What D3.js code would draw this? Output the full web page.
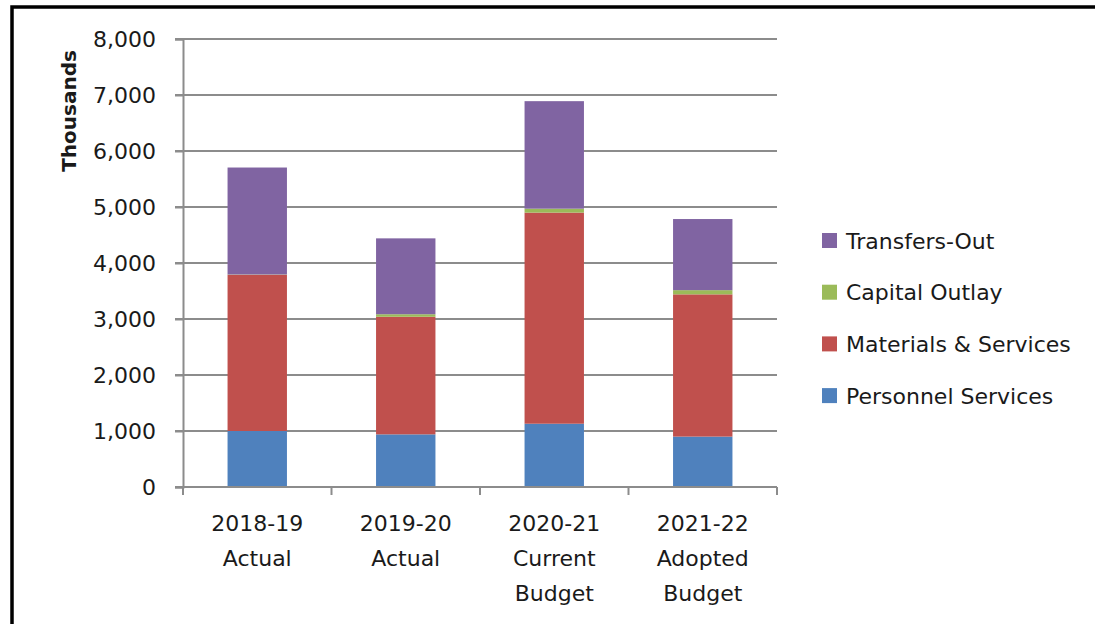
<!DOCTYPE html>
<html>
<head>
<meta charset="utf-8">
<script src="https://cdn.jsdelivr.net/npm/d3@7"></script>
<style>
  body { margin: 0; background: #fff; }
  text { font-family: "DejaVu Sans", sans-serif; fill: #1a1a1a; }
</style>
</head>
<body>
<svg id="chart" width="1095" height="624"></svg>
<script>
// values in thousands
const categories = ["2018-19", "2019-20", "2020-21", "2021-22"];
const catLabels = [["2018-19", "Actual"], ["2019-20", "Actual"], ["2020-21", "Current", "Budget"], ["2021-22", "Adopted", "Budget"]];
const personnel = [1000, 940, 1130, 900];
const materials = [2790, 2100, 3770, 2540];
const capital = [5, 45, 70, 75];
const transfers = [1910, 1355, 1920, 1270];
const seriesNames = ["Personnel Services", "Materials & Services", "Capital Outlay", "Transfers-Out"];
const seriesColors = ["#4f81bd", "#c0504d", "#9bbb59", "#8064a2"];
const yTicks = [0, 1000, 2000, 3000, 4000, 5000, 6000, 7000, 8000];

const svg = d3.select("#chart");

// frame (left + top edges only)
svg.append("path")
  .attr("d", "M12,624 L12,7 L1095,7")
  .attr("fill", "none")
  .attr("stroke", "#000")
  .attr("stroke-width", 3.5);

const margin = { top: 39, left: 183, right: 777, bottom: 487 };

const x = d3.scaleBand()
  .domain(categories)
  .range([margin.left, margin.right])
  .paddingInner(0)
  .paddingOuter(0);

const y = d3.scaleLinear()
  .domain([0, 8000])
  .range([margin.bottom, margin.top]);

const color = d3.scaleOrdinal().domain(seriesNames).range(seriesColors);

// gridlines
svg.append("g")
  .selectAll("line")
  .data(yTicks)
  .join("line")
  .attr("x1", margin.left - 8)
  .attr("x2", margin.right)
  .attr("y1", d => y(d))
  .attr("y2", d => y(d))
  .attr("stroke", "#8c8c8c")
  .attr("stroke-width", 2);

const table = categories.map((c, i) => ({
  cat: c,
  "Personnel Services": personnel[i],
  "Materials & Services": materials[i],
  "Capital Outlay": capital[i],
  "Transfers-Out": transfers[i]
}));

const stack = d3.stack().keys(seriesNames);
const layers = stack(table);

const barW = x.bandwidth() * 0.4;

svg.append("g")
  .selectAll("g")
  .data(layers)
  .join("g")
  .attr("fill", d => color(d.key))
  .selectAll("rect")
  .data(d => d)
  .join("rect")
  .attr("x", d => x(d.data.cat) + (x.bandwidth() - barW) / 2)
  .attr("width", barW)
  .attr("y", d => y(d[1]))
  .attr("height", d => y(d[0]) - y(d[1]));

// y axis
const yAxis = svg.append("g")
  .attr("transform", `translate(${margin.left},0)`)
  .call(d3.axisLeft(y).tickValues(yTicks).tickSize(8).tickPadding(19).tickFormat(d3.format(",")))
  .call(g => g.select(".domain").attr("stroke", "#8c8c8c").attr("stroke-width", 2))
  .call(g => g.selectAll(".tick line").attr("stroke", "#8c8c8c").attr("stroke-width", 2));
yAxis.selectAll(".tick text")
  .style("font-family", "DejaVu Sans")
  .style("font-size", "22px")
  .attr("fill", "#1a1a1a");

// x axis line + tick marks at band edges
const edges = categories.map(c => x(c)).concat([margin.right]);
svg.append("line")
  .attr("x1", margin.left).attr("x2", margin.right)
  .attr("y1", margin.bottom).attr("y2", margin.bottom)
  .attr("stroke", "#8c8c8c").attr("stroke-width", 2);
svg.append("g")
  .selectAll("line")
  .data(edges)
  .join("line")
  .attr("x1", d => d).attr("x2", d => d)
  .attr("y1", margin.bottom).attr("y2", margin.bottom + 8)
  .attr("stroke", "#8c8c8c").attr("stroke-width", 2);

// category labels
svg.append("g")
  .selectAll("text")
  .data(categories)
  .join("text")
  .attr("text-anchor", "middle")
  .attr("font-size", 22)
  .attr("transform", (d, i) => `translate(${x(d) + x.bandwidth() / 2},531)`)
  .each(function(d, i) {
    d3.select(this).selectAll("tspan")
      .data(catLabels[i])
      .join("tspan")
      .attr("x", 0)
      .attr("y", (t, j) => j * 35)
      .text(t => t);
  });

// y axis title
svg.append("text")
  .attr("transform", "translate(76,111) rotate(-90)")
  .attr("text-anchor", "middle")
  .attr("font-size", 20)
  .attr("font-weight", "bold")
  .text("Thousands");

// legend, top to bottom in reverse stack order
const legendNames = seriesNames.slice().reverse();
const legend = svg.append("g")
  .selectAll("g")
  .data(legendNames)
  .join("g")
  .attr("transform", (d, i) => `translate(822,${241 + i * 51.7})`);

legend.append("rect")
  .attr("x", 0)
  .attr("y", -8)
  .attr("width", 15)
  .attr("height", 15)
  .attr("fill", d => color(d));

legend.append("text")
  .attr("x", 24)
  .attr("dy", "0.35em")
  .attr("font-size", 22)
  .text(d => d);
</script>
</body>
</html>
